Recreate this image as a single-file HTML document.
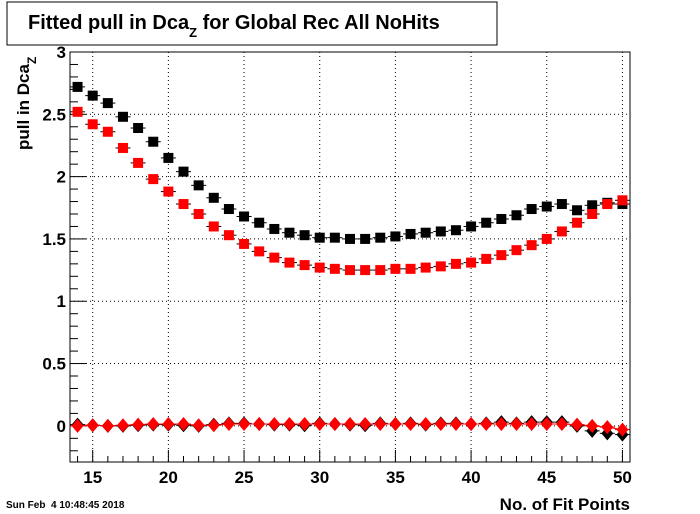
<!DOCTYPE html>
<html><head><meta charset="utf-8"><style>
body{margin:0;background:#fff;}
svg{display:block;font-family:"Liberation Sans",Arial,sans-serif;}
</style></head><body>
<svg id="c" width="700" height="514" viewBox="0 0 700 514">
<rect x="7" y="2" width="490" height="43" fill="#fff" stroke="#000" stroke-width="1"/>
<text x="28" y="29" font-size="20" font-weight="bold">Fitted pull in Dca<tspan font-size="13" dy="8">Z</tspan><tspan dy="-8"> for Global Rec All NoHits</tspan></text>
<text transform="translate(29,150) rotate(-90)" font-size="17" font-weight="bold">pull in Dca<tspan font-size="12" dy="7">Z</tspan></text>
<text x="630" y="510" font-size="17" font-weight="bold" text-anchor="end">No. of Fit Points</text>
<text x="6" y="508" font-size="10" font-weight="bold">Sun Feb &#160;4 10:48:45 2018</text>
<g id="grid"></g><g id="axes"></g><g id="marks"></g>
<rect x="70" y="52" width="560" height="410" fill="none" stroke="#000" stroke-width="1"/>
</svg>
<script>
const xs=[14,15,16,17,18,19,20,21,22,23,24,25,26,27,28,29,30,31,32,33,34,35,36,37,38,39,40,41,42,43,44,45,46,47,48,49,50];
const blackSq=[2.72,2.65,2.59,2.48,2.39,2.28,2.15,2.04,1.93,1.83,1.74,1.68,1.63,1.58,1.55,1.53,1.51,1.51,1.50,1.50,1.51,1.52,1.54,1.55,1.56,1.57,1.60,1.63,1.66,1.69,1.74,1.76,1.78,1.73,1.77,1.79,1.78];
const redSq=[2.52,2.42,2.36,2.23,2.11,1.98,1.88,1.78,1.70,1.60,1.53,1.46,1.40,1.35,1.31,1.29,1.27,1.26,1.25,1.25,1.25,1.26,1.26,1.27,1.28,1.30,1.31,1.34,1.37,1.41,1.45,1.50,1.56,1.63,1.70,1.78,1.81];
const blackDi=[0.01,0.005,0,0,0.005,0.01,0.01,0.005,0,0.01,0.02,0.02,0.015,0.01,0.01,0.005,0.02,0.015,0.01,0.005,0.02,0.015,0.02,0.01,0.02,0.02,0.015,0.02,0.03,0.02,0.03,0.03,0.03,0.0,-0.04,-0.06,-0.07];
const redDi=[0,0.005,0,0.005,0.01,0.015,0.015,0.015,0.005,0.005,0.015,0.015,0.015,0.015,0.015,0.015,0.015,0.015,0.015,0.015,0.015,0.015,0.015,0.015,0.015,0.015,0.015,0.015,0.015,0.015,0.015,0.015,0.015,0.01,0.0,-0.01,-0.03];
const xTicks=[15,20,25,30,35,40,45,50];
const yTicks=[0,0.5,1,1.5,2,2.5,3];
const yTickLabels=["0","0.5","1","1.5","2","2.5","3"];
const X0=13.5,X1=50.5,Y0=-0.29,Y1=3.0,L=70,R=630,T=52,B=462;
const sx=v=>L+(v-X0)/(X1-X0)*(R-L);
const sy=v=>B-(v-Y0)/(Y1-Y0)*(B-T);
const NS="http://www.w3.org/2000/svg";
function mk(tag,attrs,parent){const e=document.createElementNS(NS,tag);for(const k in attrs)e.setAttribute(k,attrs[k]);parent.appendChild(e);return e;}
const grid=document.getElementById('grid'),axes=document.getElementById('axes'),marks=document.getElementById('marks');
xTicks.forEach(t=>{
  let g=mk('line',{x1:sx(t),x2:sx(t),y1:T,y2:B,stroke:'#000','stroke-dasharray':'1,3','stroke-width':1},grid);
  
  
  let tl=mk('text',{x:sx(t),y:483,'font-size':17,'font-weight':'bold','text-anchor':'middle'},axes);
  tl.textContent=t;
  
  
});
for(let v=14;v<=50;v++){
  const big=v%5===0;
  let tk=mk('line',{x1:sx(v),x2:sx(v),y1:B,y2:B-(big?12:6),stroke:'#000'},axes);
  
  
}
yTicks.forEach((t,i)=>{
  let g=mk('line',{x1:L,x2:R,y1:sy(t),y2:sy(t),stroke:'#000','stroke-dasharray':'1,3','stroke-width':1},grid);
  
  
  let tl=mk('text',{x:66,y:sy(t)+6,'font-size':17,'font-weight':'bold','text-anchor':'end'},axes);
  tl.textContent=yTickLabels[i];
  
  
});
for(let v=-0.2;v<=3.001;v+=0.1){
  const big=Math.abs(v*2-Math.round(v*2))<1e-6;
  let tk=mk('line',{x1:L,x2:L+(big?16:8),y1:sy(v),y2:sy(v),stroke:'#000'},axes);
  
  
}
let pl=mk('polyline',{points:xs.map((x,i)=>sx(x)+','+sy(redDi[i])).join(' '),fill:'none',stroke:'#f00','stroke-width':1},marks);


function series(vals,color,shape,name){
  xs.forEach((x,i)=>{
    const cx=sx(x),cy=sy(vals[i]);
    let eb=mk('line',{x1:cx-7.5,x2:cx+7.5,y1:cy,y2:cy,stroke:color==='#f00'&&shape==='d'?'#f00':'#000'},marks);
    
    
    let m;
    if(shape==='s') m=mk('rect',{x:cx-5,y:cy-5,width:10,height:10,fill:color},marks);
    else m=mk('polygon',{points:`${cx},${cy-7} ${cx+6},${cy} ${cx},${cy+7} ${cx-6},${cy}`,fill:color},marks);
    
    
  });
}
series(blackDi,'#000','d','black-diamond');
series(redDi,'#f00','d','red-diamond');
series(blackSq,'#000','s','black-square');
series(redSq,'#f00','s','red-square');
</script>
</body></html>
